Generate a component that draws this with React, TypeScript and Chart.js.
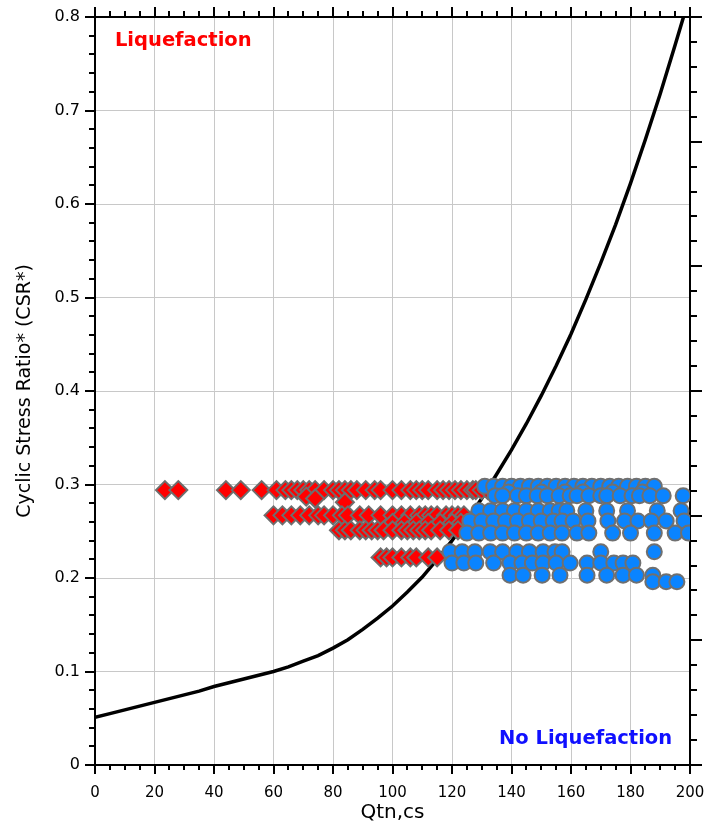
import React, { useEffect, useRef } from 'react';
import { Chart, registerables } from 'chart.js';

Chart.register(...registerables);

// ---- Boundary curve ----
const curveQ = [0, 5, 10, 15, 20, 25, 30, 35, 40, 45, 50, 55, 60, 65, 70, 75, 80, 85, 90, 95, 100, 105, 110, 115, 120, 125, 130, 135, 140, 145, 150, 155, 160, 165, 170, 175, 180, 185, 190, 195, 198];
const curveCRR = [0.051, 0.055, 0.059, 0.063, 0.067, 0.071, 0.075, 0.079, 0.084, 0.088, 0.092, 0.096, 0.100, 0.105, 0.111, 0.117, 0.125, 0.134, 0.145, 0.157, 0.170, 0.185, 0.201, 0.220, 0.240, 0.262, 0.285, 0.311, 0.337, 0.365, 0.395, 0.427, 0.461, 0.498, 0.537, 0.578, 0.622, 0.669, 0.718, 0.770, 0.802];

// ---- Liquefaction (red diamonds), rows of Qtn,cs at a CSR* ----
const liqRow1Q = [23.5, 28, 44, 49, 56, 61, 64, 66, 68, 70, 72, 74, 77, 80, 82, 84, 86, 88, 91, 94, 96, 100, 103, 106, 108, 110, 112, 115, 117, 119, 121, 123, 125, 127, 128, 130, 132];
const liqRow1CSR = 0.294;
const liqExtraQ = [71, 74, 84];
const liqExtraCSR = [0.287, 0.285, 0.281];
const liqRow2Q = [60, 63, 66, 69, 72, 75, 77, 80, 83, 85, 89, 92, 96, 100, 103, 106, 109, 111, 113, 115, 118, 120, 122, 124];
const liqRow2CSR = 0.267;
const liqRow2bQ = [100, 104, 108, 112, 116, 120, 123];
const liqRow2bCSR = 0.259;
const liqRow3Q = [82, 84, 86, 89, 91, 93, 95, 97, 100, 103, 105, 107, 109, 111, 113, 116, 119, 122];
const liqRow3CSR = 0.251;
const liqRow4Q = [96, 98, 100, 103, 106, 108, 112, 115];
const liqRow4CSR = 0.222;

// ---- No liquefaction (blue circles) ----
const noLiqRowA1Q = [131, 134, 137, 140, 143, 146, 149, 152, 155, 158, 161, 164, 167, 170, 173, 176, 179, 182, 185, 188];
const noLiqRowA1CSR = 0.298;
const noLiqRowA2Q = [134.5, 137, 142, 145, 148.6, 152, 156, 159.7, 162, 166, 170, 172, 176.5, 180.5, 183, 186.5, 191, 197.7];
const noLiqRowA2CSR = 0.288;
const noLiqRowA3Q = [139, 150, 158, 164, 174, 184];
const noLiqRowA3CSR = 0.292;
const noLiqRowB1Q = [129, 133, 137, 141, 145, 149, 153, 156, 158.6, 165, 172, 179, 189, 197];
const noLiqRowB1CSR = 0.272;
const noLiqRowB2Q = [126, 130, 134, 138, 142, 146, 150, 154, 157, 160.7, 165.7, 172.4, 178, 182.5, 187, 192, 198];
const noLiqRowB2CSR = 0.261;
const noLiqRowB3Q = [125, 129, 133, 137, 141, 145, 149, 153, 157, 162, 166, 174, 180, 188, 195, 199.5];
const noLiqRowB3CSR = 0.248;
const noLiqRowC0Q = [119.3, 123.4, 127.7, 132.8, 137, 141.8, 146, 150.6, 154.6, 157, 170, 188];
const noLiqRowC0CSR = 0.228;
const noLiqRowC1Q = [120, 124, 128, 134, 139.5, 143.5, 147, 150.6, 155, 159.7, 165.4, 170, 174.4, 177.5, 180.8];
const noLiqRowC1CSR = 0.216;
const noLiqRowC2Q = [139.5, 143.9, 150.3, 156.3, 165.4, 172, 177.5, 182, 187.5];
const noLiqRowC2CSR = 0.203;
const noLiqRowC3Q = [187.5, 192, 195.6];
const noLiqRowC3CSR = 0.196;

const X_MIN = 0, X_MAX = 200, Y_MIN = 0, Y_MAX = 0.8;

const row = (qs: number[], csr: number) => qs.map((q) => ({ x: q, y: csr }));
const pairs = (qs: number[], cs: number[]) => qs.map((q, i) => ({ x: q, y: cs[i] }));

const FONT = "'DejaVu Sans', Verdana, sans-serif";

const liqData = [
  ...row(liqRow1Q, liqRow1CSR),
  ...pairs(liqExtraQ, liqExtraCSR),
  ...row(liqRow2Q, liqRow2CSR),
  ...row(liqRow2bQ, liqRow2bCSR),
  ...row(liqRow3Q, liqRow3CSR),
  ...row(liqRow4Q, liqRow4CSR),
];
const noLiqData = [
  ...row(noLiqRowA1Q, noLiqRowA1CSR),
  ...row(noLiqRowA3Q, noLiqRowA3CSR),
  ...row(noLiqRowA2Q, noLiqRowA2CSR),
  ...row(noLiqRowB1Q, noLiqRowB1CSR),
  ...row(noLiqRowB2Q, noLiqRowB2CSR),
  ...row(noLiqRowB3Q, noLiqRowB3CSR),
  ...row(noLiqRowC0Q, noLiqRowC0CSR),
  ...row(noLiqRowC1Q, noLiqRowC1CSR),
  ...row(noLiqRowC2Q, noLiqRowC2CSR),
  ...row(noLiqRowC3Q, noLiqRowC3CSR),
];
const curveData = pairs(curveQ, curveCRR);

const tickPlugin = {
  id: 'minorMajorTicks',
  afterDraw(chart: any) {
    const { ctx, chartArea, scales } = chart;
    const xs = scales.x, ys = scales.y, y2 = scales.y2;
    ctx.save();
    ctx.strokeStyle = '#000';
    ctx.lineWidth = 2;
    // top border
    ctx.beginPath();
    ctx.moveTo(chartArea.left - 1, chartArea.top);
    ctx.lineTo(chartArea.right + 1, chartArea.top);
    ctx.stroke();
    // x ticks bottom + top
    for (let v = X_MIN; v <= X_MAX; v += 5) {
      const px = Math.round(xs.getPixelForValue(v));
      const major = v % 20 === 0;
      const len = major ? 9 : 5;
      ctx.beginPath();
      ctx.moveTo(px, chartArea.bottom);
      ctx.lineTo(px, chartArea.bottom + len);
      ctx.moveTo(px, chartArea.top);
      ctx.lineTo(px, chartArea.top - (major ? 10 : 6));
      ctx.stroke();
    }
    // left y ticks
    for (let i = 0; i <= 40; i++) {
      const v = i * 0.02;
      const py = Math.round(ys.getPixelForValue(v));
      const len = i % 5 === 0 ? 10 : 6;
      ctx.beginPath();
      ctx.moveTo(chartArea.left, py);
      ctx.lineTo(chartArea.left - len, py);
      ctx.stroke();
    }
    // right y2 ticks
    for (let v = 0; v <= 30; v++) {
      const py = Math.round(y2.getPixelForValue(v));
      const len = v % 5 === 0 ? 12 : 7;
      ctx.beginPath();
      ctx.moveTo(chartArea.right, py);
      ctx.lineTo(chartArea.right + len, py);
      ctx.stroke();
    }
    ctx.restore();
  },
  afterDatasetsDraw(chart: any) {
    const { ctx, scales } = chart;
    const xs = scales.x, ys = scales.y;
    ctx.save();
    ctx.font = `bold 19.5px ${FONT}`;
    ctx.textBaseline = 'middle';
    ctx.fillStyle = '#ff0000';
    ctx.textAlign = 'left';
    ctx.fillText('Liquefaction', xs.getPixelForValue(6.7), ys.getPixelForValue(0.774));
    ctx.fillStyle = '#1010ff';
    ctx.textAlign = 'right';
    ctx.fillText('No Liquefaction', xs.getPixelForValue(194), ys.getPixelForValue(0.028));
    ctx.restore();
  },
};

export default function App() {
  const ref = useRef<HTMLCanvasElement | null>(null);
  useEffect(() => {
    if (!ref.current) return;
    const chart = new Chart(ref.current, {
      type: 'scatter',
      data: {
        datasets: [
          {
            label: 'No Liquefaction',
            data: noLiqData,
            order: 0,
            pointStyle: 'circle',
            pointRadius: 7.5,
            backgroundColor: '#0a84ff',
            borderColor: '#707070',
            borderWidth: 2,
            showLine: false,
          },
          {
            label: 'Liquefaction',
            data: liqData,
            order: 1,
            pointStyle: 'rectRot',
            pointRadius: 9,
            backgroundColor: '#ff0000',
            borderColor: '#6e6e6e',
            borderWidth: 2,
            showLine: false,
          },
          {
            label: 'Boundary',
            data: curveData,
            order: 2,
            showLine: true,
            borderColor: '#000',
            borderWidth: 3.5,
            pointRadius: 0,
            tension: 0,
            fill: false,
          },
        ],
      },
      options: {
        animation: false,
        responsive: false,
        devicePixelRatio: 1,
        layout: { padding: { top: 17, left: 0, right: 0, bottom: 0 } },
        plugins: { legend: { display: false }, tooltip: { enabled: false } },
        scales: {
          x: {
            type: 'linear',
            position: 'bottom',
            min: X_MIN,
            max: X_MAX,
            ticks: { stepSize: 20, padding: 19, color: '#000', font: { family: FONT, size: 15 }, maxRotation: 0, autoSkip: false },
            grid: { color: '#c8c8c8', lineWidth: 1, drawTicks: false },
            border: { display: true, color: '#000', width: 2 },
            title: { display: true, text: 'Qtn,cs', color: '#000', font: { family: FONT, size: 20 }, padding: { top: 0, bottom: 2 } },
            afterFit: (s: any) => { s.height = 62; s.paddingLeft = 0; s.paddingRight = 0; },
          },
          y: {
            type: 'linear',
            position: 'left',
            min: Y_MIN,
            max: Y_MAX,
            ticks: {
              stepSize: 0.1,
              padding: 15,
              color: '#000',
              font: { family: FONT, size: 16 },
              callback: (v: any) => (Number(v) === 0 ? '0' : Number(v).toFixed(1)),
            },
            grid: { color: '#c8c8c8', lineWidth: 1, drawTicks: false },
            border: { display: true, color: '#000', width: 2 },
            title: { display: true, text: 'Cyclic Stress Ratio* (CSR*)', color: '#000', font: { family: FONT, size: 19 }, padding: { top: 14, bottom: 0 } },
            afterFit: (s: any) => { s.width = 95; s.paddingTop = 0; s.paddingBottom = 0; },
          },
          y2: {
            type: 'linear',
            position: 'right',
            min: 0,
            max: 30,
            ticks: { display: false },
            grid: { display: true, drawOnChartArea: false, drawTicks: false },
            border: { display: true, color: '#000', width: 2 },
            afterFit: (s: any) => { s.width = 70; s.paddingTop = 0; s.paddingBottom = 0; },
          },
        },
      },
      plugins: [tickPlugin],
    });
    return () => chart.destroy();
  }, []);

  return (
    <div style={{ position: 'fixed', left: 0, top: 0, width: 704, height: 827, overflow: 'hidden', background: '#fff' }}>
      <canvas ref={ref} width={760} height={827} style={{ display: 'block' }} />
    </div>
  );
}
